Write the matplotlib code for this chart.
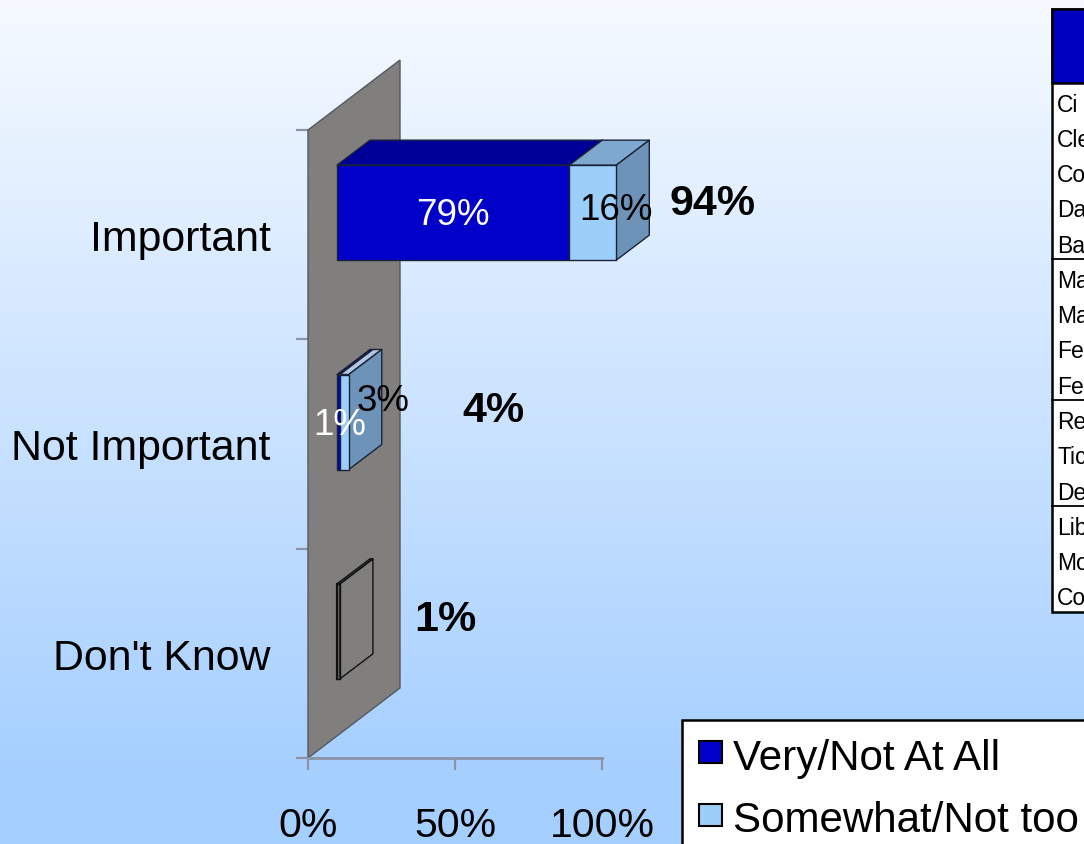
import numpy as np
import matplotlib
matplotlib.use("Agg")
import matplotlib.pyplot as plt
from matplotlib.patches import Polygon, Rectangle

plt.rcParams['font.family'] = ['Liberation Sans', 'DejaVu Sans']

categories = ["Important", "Not Important", "Don't Know"]
very_values = [79, 1, 0]
somewhat_values = [16, 3, 1]
total_labels = ["94%", "4%", "1%"]
very_labels = ["79%", "1%", None]
somewhat_labels = ["16%", "3%", None]
legend_names = ["Very/Not At All", "Somewhat/Not too"]
x_ticks = [0, 50, 100]
x_tick_labels = ["0%", "50%", "100%"]
table_rows = ["Ci", "Cle", "Co", "Da", "Ba", "Ma", "Ma", "Fe", "Fe", "Re", "Tic", "De", "Lib", "Mo", "Co"]
table_breaks = [5, 9, 12]

W, H = 1084, 845
fig = plt.figure(figsize=(W / 100, H / 100), dpi=100)

# full-figure background gradient
bg = fig.add_axes([0, 0, 1, 1], zorder=0)
bg.axis('off')
c_top = np.array([0xF6, 0xFA, 0xFF]) / 255
c_bot = np.array([0xA5, 0xCF, 0xFF]) / 255
t = np.clip(np.linspace(0, 845 / 780, 400), 0, 1)[:, None, None]
grad = c_top[None, None, :] * (1 - t) + c_bot[None, None, :] * t
bg.imshow(grad, extent=[0, W, H, 0], aspect='auto', interpolation='bilinear')
bg.set_xlim(0, W); bg.set_ylim(H, 0)

# chart axes: plot area = front plane of the wall
L, R, T, B = 308, 602, 131, 759
ax = fig.add_axes([L / W, 1 - B / H, (R - L) / W, (B - T) / H], zorder=1)
ax.patch.set_alpha(0)
ax.set_xlim(0, 100)
ax.set_ylim(len(categories), 0)
px_x = (R - L) / 100.0
px_y = (B - T) / len(categories)
AXC = '#8C93A6'
for s in ['top', 'right', 'left']:
    ax.spines[s].set_visible(False)
ax.spines['bottom'].set_color(AXC)
ax.spines['bottom'].set_linewidth(2.0)
ax.set_xticks(x_ticks)
ax.set_xticklabels(x_tick_labels, fontsize=29.5)
ax.set_yticks(np.arange(len(categories)) + 0.5)
ax.set_yticklabels(categories, fontsize=30.9)
ax.set_yticks(np.arange(len(categories) + 1), minor=True)
ax.tick_params(axis='x', length=8.5, width=1.6, color=AXC, pad=26)
ax.tick_params(axis='y', which='major', length=0, pad=27)
ax.tick_params(axis='y', which='minor', length=9, width=1.6, color=AXC)

def dx(p):
    return p / px_x
def dy(p):
    return p / px_y

# wall
wall_dx, wall_dy = dx(92), dy(-70)
ax.add_patch(Polygon([(0, 0), (wall_dx, wall_dy), (wall_dx, 3 + wall_dy), (0, 3)],
                     closed=True, fc='#807F7E', ec='#55585E', lw=1.0, clip_on=False, zorder=2))

off_x, off_y = dx(29), dy(-22)
bar_h = 95 / px_y
dep_x, dep_y = dx(33), dy(-25)

def box(x0, x1, yc, front, top, side, edge='#1A2238', lw=1.0, z=3.0):
    a = x0 + off_x; b = x1 + off_x
    y0 = yc - bar_h / 2 + off_y; y1 = yc + bar_h / 2 + off_y
    kw = dict(closed=True, ec=edge, lw=lw, clip_on=False, zorder=z, joinstyle='round')
    ax.add_patch(Polygon([(a, y0), (a + dep_x, y0 + dep_y), (b + dep_x, y0 + dep_y), (b, y0)], fc=top, **kw))
    ax.add_patch(Polygon([(b, y0), (b + dep_x, y0 + dep_y), (b + dep_x, y1 + dep_y), (b, y1)], fc=side, **kw))
    ax.add_patch(Polygon([(a, y0), (b, y0), (b, y1), (a, y1)], fc=front, **kw))

DARK, DARK_TOP, DARK_SIDE = '#0000C8', '#000098', '#000080'
LIGHT, LIGHT_TOP, LIGHT_SIDE = '#9CCEFA', '#7FA8D0', '#6D93B8'

for i, (v, s) in enumerate(zip(very_values, somewhat_values)):
    yc = i + 0.5
    if i == 2:
        box(v, v + s, yc, 'none', 'none', 'none', edge='#101010', lw=1.0, z=3)
        ax.plot([v + off_x] * 2, [yc - bar_h / 2 + off_y, yc + bar_h / 2 + off_y],
                color='#101010', lw=1.6, zorder=4, clip_on=False)
    else:
        box(v, v + s, yc, LIGHT, LIGHT_TOP if i == 0 else '#B4C8E4', LIGHT_SIDE, z=3.2)
        box(0, v, yc, DARK, DARK_TOP, DARK_SIDE, z=3.1)

ax.text(very_values[0] / 2 + off_x, 0.5 + off_y + dy(2), very_labels[0], color='white',
        ha='center', va='center', fontsize=26.5, zorder=6)
ax.text(very_values[0] + somewhat_values[0] / 2 + off_x + dx(23), 0.5 + off_y + dy(-3),
        somewhat_labels[0], color='black', ha='center', va='center', fontsize=26.5, zorder=6)
ax.text(very_values[1] + off_x + dx(0), 1.5 + off_y + dy(3), very_labels[1], color='white',
        ha='center', va='center', fontsize=26.5, zorder=7)
ax.text(very_values[1] + off_x + dx(43), 1.5 + off_y + dy(-21), somewhat_labels[1], color='black',
        ha='center', va='center', fontsize=26.5, zorder=6)

# totals
total_x = [dx(405), dx(185), dx(137)]
total_dy = [dy(-32), dy(-34), dy(-34)]
for i, lab in enumerate(total_labels):
    ax.text(total_x[i], i + 0.5 + total_dy[i], lab, fontsize=31, fontweight='bold',
            color='black', ha='center', va='center', zorder=6)

# overlay for table and legend
ov = fig.add_axes([0, 0, 1, 1], zorder=2)
ov.set_xlim(0, W); ov.set_ylim(H, 0); ov.axis('off'); ov.patch.set_alpha(0)

TL, TT, HB, TB = 1052, 10, 84, 613
ov.add_patch(Rectangle((TL, TT), W + 20 - TL, TB - TT, fc='white', ec='black', lw=1.8, zorder=1))
ov.add_patch(Rectangle((TL, TT), W + 20 - TL, HB - TT, fc='#0000C0', ec='black', lw=1.8, zorder=2))
row_h = (TB - HB) / len(table_rows)
for i, r in enumerate(table_rows):
    ov.text(1057, HB + row_h * (i + 0.5) + 3.5, r, fontsize=16.5, ha='left', va='center', color='black', zorder=3)
for b in table_breaks:
    ov.plot([TL, W], [HB + row_h * b] * 2, color='black', lw=1.3, zorder=3)

# legend (a rectangle that runs off the canvas)
ov.add_patch(Rectangle((682, 721), W + 20 - 682, H + 20 - 721, fc='white', ec='black', lw=1.8, zorder=1))
ov.add_patch(Rectangle((699, 742), 23, 22, fc=DARK, ec='black', lw=1.5, zorder=2))
ov.add_patch(Rectangle((699, 805), 23, 22, fc=LIGHT, ec='black', lw=1.5, zorder=2))
ov.text(733, 759, legend_names[0], fontsize=30.3, ha='left', va='center', color='black', zorder=3)
ov.text(733, 821, legend_names[1], fontsize=30.3, ha='left', va='center', color='black', zorder=3)

fig.savefig("out.png", dpi=100)
